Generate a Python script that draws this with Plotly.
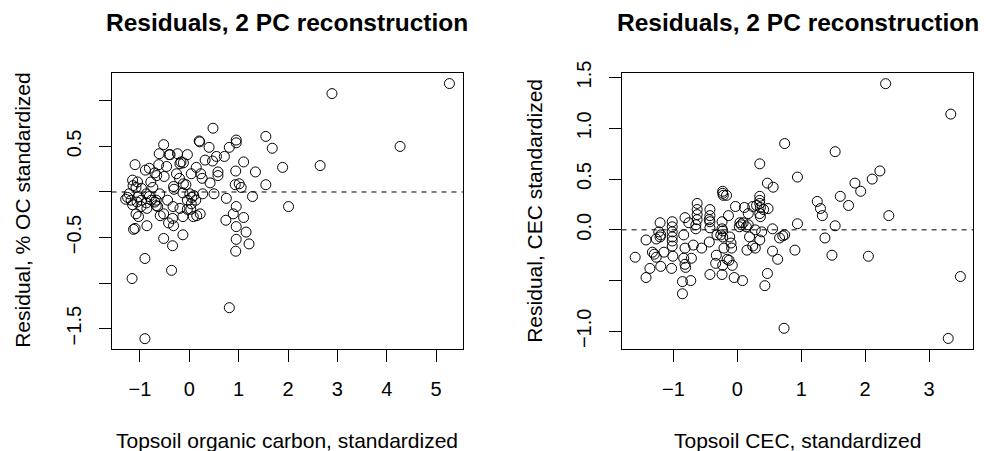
import plotly.graph_objects as go

# ---- Left panel: organic carbon ----
oc_x = [5.27, 2.89, 4.27, 2.65, 1.89, 2.01, 1.55, 1.68, 1.55, 1.34, 1.28, 1.10, 1.10, 1.15, 1.21,
        0.95, 0.95, 0.94, 0.93, 1.01, 1.05, 0.95, 0.89, 0.95, 0.95, 0.94, 0.81, 0.81, 0.71, 0.75,
        0.74, 0.48, 0.55, 0.58, 0.58, 0.40, 0.47, 0.50, 0.42, 0.32, 0.20, 0.21, 0.26, 0.23, 0.14,
        0.27, 0.22, 0.15, 0.08, 0.13, 0.05, 0.04, -0.04, -0.12, -0.17, -0.19, -0.24, -0.20, -0.12,
        -0.07, -0.13, 0.01, 0.04, 0.03, -0.04, -0.19, -0.13, -0.13, -0.32, -0.31, -0.26, -0.33,
        -0.34, -0.32, -0.34, -0.36, -0.41, -0.39, -0.46, -0.44, -0.42, -0.52, -0.51, -0.52, -0.52,
        -0.62, -0.61, -0.60, -0.59, -0.70, -0.66, -0.67, -0.67, -0.74, -0.78, -0.81, -0.89, -0.87,
        -0.81, -0.87, -0.86, -0.86, -0.90, -0.90, -0.97, -0.97, -1.05, -1.08, -1.03, -1.06, -1.08,
        -1.03, -1.10, -1.15, -1.14, -1.13, -1.10, -1.16, -1.22, -1.25, -1.29, -1.18, -1.15, -0.98,
        -0.77, -0.70, -0.64, -0.04, 0.09]
oc_y = [1.19, 1.08, 0.50, 0.29, 0.27, -0.16, 0.61, 0.48, 0.08, 0.22, -0.05, 0.33, -0.28, -0.44, -0.57,
        0.57, 0.54, 0.23, 0.08, 0.09, 0.05, -0.16, -0.24, -0.38, -0.52, -0.65, -1.27, 0.49, 0.39, -0.07,
        -0.31, 0.70, 0.39, 0.22, 0.18, 0.49, 0.34, -0.02, 0.10, 0.35, 0.56, 0.55, 0.15, 0.20, 0.27,
        -0.02, -0.24, -0.26, -0.27, -0.09, -0.06, 0.20, 0.41, 0.32, 0.33, 0.31, 0.42, 0.15, 0.09,
        0.08, -0.01, -0.02, -0.13, -0.19, -0.09, -0.18, -0.27, -0.47, 0.06, 0.03, 0.20, -0.16,
        -0.29, -0.37, -0.59, -0.86, 0.41, 0.41, 0.28, -0.09, -0.34, 0.52, 0.17, -0.24, -0.51,
        0.30, 0.42, -0.02, -0.26, 0.21, 0.18, -0.09, -0.15, 0.05, 0.11, 0.26, 0.24, -0.02,
        -0.05, -0.12, -0.18, -0.37, -0.73, -1.61, 0.04, -0.09, 0.11, 0.05, -0.05, -0.11, -0.24,
        -0.27, 0.30, 0.13, 0.07, -0.41, -0.40, -0.95, -0.02, -0.06, -0.08, -0.09, -0.14, -0.16,
        -0.09, -0.11, -0.16, -0.19, -0.04]

# ---- Right panel: CEC ----
cec_x = [2.32, 3.34, 3.49, 3.30, 0.74, 0.73, 1.53, 0.35, 0.94, 2.23, 2.11, 1.84, 1.93, 1.61, 1.74,
         1.25, 1.30, 1.33, 2.37, 1.53, 0.94, 1.37, 1.48, 2.05, 0.90, 0.47, 0.56, 0.48, 0.55, 0.63,
         0.55, 0.47, 0.43, 0.66, 0.71, 0.74, 0.35, 0.35, 0.35, 0.36, 0.35, 0.36, 0.41, 0.30, 0.24,
         0.38, 0.35, 0.28, 0.28, 0.24, 0.19, 0.15, 0.11, 0.17, 0.17, 0.14, 0.09, 0.04, 0.03, 0.06,
         0.08, -0.03, -0.05, -0.14, -0.08, -0.13, -0.12, -0.10, -0.09, -0.23, -0.23, -0.22, -0.17,
         -0.24, -0.24, -0.23, -0.26, -0.23, -0.21, -0.23, -0.24, -0.32, -0.33, -0.34, -0.16, -0.43,
         -0.43, -0.43, -0.43, -0.44, -0.44, -0.43, -0.63, -0.63, -0.63, -0.63, -0.65, -0.65, -0.56,
         -0.69, -0.72, -0.73, -0.76, -0.82, -0.84, -0.82, -0.84, -0.82, -0.81, -0.86, -0.86, -1.02,
         -1.02, -1.02, -1.02, -1.02, -1.02, -1.01, -1.03, -1.15, -1.21, -1.20, -1.21, -1.27, -1.27,
         -1.30, -1.33, -1.20, -1.37, -1.43, -1.43, -1.60, -1.23]
cec_y = [1.44, 1.14, -0.46, -1.07, 0.85, -0.97, 0.77, 0.65, 0.52, 0.58, 0.50, 0.46, 0.38, 0.33, 0.24,
         0.28, 0.21, 0.14, 0.14, 0.04, 0.06, -0.08, -0.25, -0.26, -0.20, 0.46, 0.42, 0.21, 0.01, -0.29,
         -0.21, -0.43, -0.55, -0.08, -0.06, -0.05, 0.33, 0.29, 0.26, 0.22, 0.16, 0.13, 0.20, 0.24, 0.23,
         -0.02, -0.10, 0.00, -0.18, -0.16, -0.07, -0.20, 0.22, 0.16, 0.05, 0.03, 0.07, 0.07, 0.03, 0.05,
         -0.50, 0.23, -0.47, 0.14, -0.35, -0.30, -0.07, -0.13, -0.18, 0.38, 0.36, 0.34, 0.34,
         0.08, 0.01, -0.01, -0.05, -0.07, -0.18, -0.35, -0.44, -0.05, -0.25, -0.33, -0.29, 0.20,
         0.14, 0.08, 0.02, 0.10, -0.12, -0.44, 0.26, 0.20, 0.15, 0.10, 0.05, 0.01, -0.18,
         -0.15, -0.28, -0.50, 0.07, 0.12, -0.05, -0.18, -0.28, -0.34, -0.37, -0.51, -0.63, 0.08,
         0.03, -0.02, -0.07, -0.11, -0.16, -0.26, -0.38, -0.22, 0.07, -0.05, -0.07, -0.09, -0.27,
         -0.24, -0.22, -0.36, -0.38, -0.10, -0.47, -0.27, -0.02]

main_title = "Residuals, 2 PC reconstruction"
oc_xlabel = "Topsoil organic carbon, standardized"
oc_ylabel = "Residual, % OC standardized"
cec_xlabel = "Topsoil CEC, standardized"
cec_ylabel = "Residual, CEC standardized"

oc_xticks = [-1, 0, 1, 2, 3, 4, 5]
oc_xtext = ["\u22121", "0", "1", "2", "3", "4", "5"]
oc_yticks = [1.0, 0.5, 0.0, -0.5, -1.0, -1.5]
oc_ytext = ["", "0.5", "", "\u22120.5", "", "\u22121.5"]
cec_xticks = [-1, 0, 1, 2, 3]
cec_xtext = ["\u22121", "0", "1", "2", "3"]
cec_yticks = [1.5, 1.0, 0.5, 0.0, -0.5, -1.0]
cec_ytext = ["1.5", "1.0", "0.5", "0.0", "", "\u22121.0"]

FONT = "Liberation Sans, Arial, Helvetica, sans-serif"
W, H = 986, 451

fig = go.Figure()
marker = dict(symbol="circle-open", size=10, color="black", line=dict(width=1, color="black"))
fig.add_trace(go.Scatter(x=oc_x, y=oc_y, mode="markers", marker=marker, xaxis="x", yaxis="y",
                         showlegend=False, hoverinfo="x+y"))
fig.add_trace(go.Scatter(x=cec_x, y=cec_y, mode="markers", marker=marker, xaxis="x2", yaxis="y2",
                         showlegend=False, hoverinfo="x+y"))

# plot boxes in pixels
L1, R1 = 111.5, 462.8
L2, R2 = 621.6, 973.4
TOP, BOT = 73.0, 348.6
ydom = [1 - BOT / H, 1 - TOP / H]

axis_common = dict(showline=True, linecolor="black", linewidth=1, mirror=True,
                   ticks="outside", ticklen=12, tickwidth=1, tickcolor="black",
                   showgrid=False, zeroline=False, automargin=False,
                   tickfont=dict(family=FONT, size=20, color="black"))

fig.update_layout(
    width=W, height=H, autosize=False,
    margin=dict(l=0, r=0, t=0, b=0, pad=0, autoexpand=False),
    paper_bgcolor="white", plot_bgcolor="white",
    font=dict(family=FONT, color="black"),
    xaxis=dict(domain=[L1 / W, R1 / W], range=[-1.577, 5.541], anchor="y",
               tickmode="array", tickvals=oc_xticks, ticktext=oc_xtext,
               ticklabelstandoff=10, **axis_common),
    yaxis=dict(domain=ydom, range=[-1.719, 1.306], anchor="x",
               tickmode="array", tickvals=oc_yticks, ticktext=oc_ytext, tickangle=-90,
               ticklabelstandoff=10, **axis_common),
    xaxis2=dict(domain=[L2 / W, R2 / W], range=[-1.8125, 3.694], anchor="y2",
                tickmode="array", tickvals=cec_xticks, ticktext=cec_xtext,
                ticklabelstandoff=10, **axis_common),
    yaxis2=dict(domain=ydom, range=[-1.170, 1.545], anchor="x2",
                tickmode="array", tickvals=cec_yticks, ticktext=cec_ytext, tickangle=-90,
                ticklabelstandoff=10, **axis_common),
)

# dashed zero lines
for xr, yr in (("x domain", "y"), ("x2 domain", "y2")):
    fig.add_shape(type="line", xref=xr, yref=yr, x0=0, x1=1, y0=0, y1=0,
                  line=dict(color="black", width=1, dash="5px,5px"), layer="below")

def ann(text, x, y, size, bold=False, angle=0):
    fig.add_annotation(text=("<b>%s</b>" % text) if bold else text,
                       x=x / W, y=1 - y / H, xref="paper", yref="paper",
                       xanchor="center", yanchor="middle", showarrow=False, textangle=angle,
                       font=dict(family=FONT, size=size, color="black"))

ymid = (TOP + BOT) / 2
ann(main_title, (L1 + R1) / 2, 22, 24.5, bold=True)
ann(main_title, (L2 + R2) / 2, 22, 24.5, bold=True)
ann(oc_xlabel, (L1 + R1) / 2, 440, 21)
ann(cec_xlabel, (L2 + R2) / 2, 440, 21)
ann(oc_ylabel, 23, ymid, 21, angle=-90)
ann(cec_ylabel, 535, ymid, 21, angle=-90)

fig.write_html("out.html", config={"displayModeBar": False},
               post_script="document.body.style.margin='0';")
